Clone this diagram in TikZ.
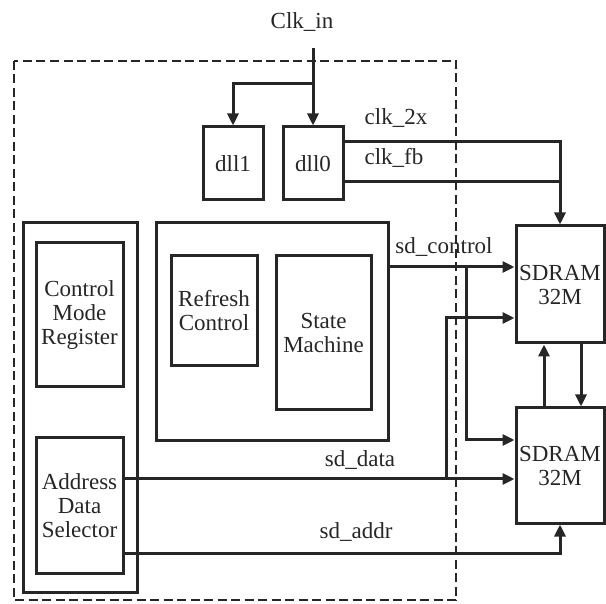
\documentclass[tikz,border=0pt]{standalone}
\usepackage{fontspec}
\setmainfont{Liberation Serif}
\usepackage{tikz}
\usetikzlibrary{arrows.meta}
\definecolor{ink}{HTML}{262626}

\begin{document}
\begin{tikzpicture}[x=1pt, y=-1pt,
    every node/.style={font=\fontsize{23}{24}\selectfont, inner sep=0pt, text=ink},
    blk/.style={draw=ink, line width=3pt, align=center},
    wire/.style={draw=ink, line width=3pt},
    sig/.style={wire, -{Triangle[length=12pt, width=11pt]}},
    lbl/.style={anchor=base}]
  \useasboundingbox (0,0) rectangle (606,604);
  % boundary of the controller
  \draw[ink, line width=2.6pt, dash pattern=on 9pt off 4.5pt] (14,61) rectangle (456,600);
  % blocks
  \node[blk, minimum width=60pt, minimum height=73pt] (dllone) at (233,163.5) {dll1};
  \node[blk, minimum width=60pt, minimum height=73pt] (dllzero) at (313,163.5) {dll0};
  \node[blk, minimum width=114pt, minimum height=369pt] (leftgrp) at (80,407.5) {};
  \node[blk, minimum width=87pt, minimum height=144pt] (ctrlreg) at (79.5,315) {Control\\Mode\\Register};
  \node[blk, minimum width=87pt, minimum height=135pt] (addrsel) at (79.5,505.5) {Address\\Data\\Selector};
  \node[blk, minimum width=232pt, minimum height=218pt] (core) at (272,332) {};
  \node[blk, minimum width=86pt, minimum height=110pt] (refresh) at (214,311) {Refresh\\Control};
  \node[blk, minimum width=95pt, minimum height=154pt] (fsm) at (323.5,333) {State\\Machine};
  \node[blk, minimum width=88pt, minimum height=117pt] (sdramA) at (560,284.5) {SDRAM\\32M};
  \node[blk, minimum width=88pt, minimum height=115pt] (sdramB) at (560,465.5) {SDRAM\\32M};
  % rows and columns of the buses
  \coordinate (clkin) at (313,48);
  \coordinate (clksplit) at (313,84);
  \coordinate (fbjoin) at (560,182);
  \coordinate (xrow) at (0,142);
  \coordinate (ctlrow) at (0,267);
  \coordinate (datrowA) at (0,318);
  \coordinate (ctlrowB) at (0,440);
  \coordinate (datrow) at (0,479);
  \coordinate (addrrow) at (0,553);
  \coordinate (ctlbus) at (466,0);
  \coordinate (datbus) at (446,0);
  % clocks
  \draw[sig] (clkin) -- (dllzero.north);
  \draw[sig] (clksplit) -| (dllone.north);
  \draw[sig] (dllzero.east |- xrow) -| (sdramA.north);
  \draw[wire] (dllzero.east |- fbjoin) -- (fbjoin);
  % memory buses
  \draw[sig] (core.east |- ctlrow) -- (sdramA.west |- ctlrow);
  \draw[sig] (ctlbus |- ctlrow) |- (sdramB.west |- ctlrowB);
  \draw[sig] (addrsel.east |- datrow) -- (sdramB.west |- datrow);
  \draw[sig] (datbus |- datrow) |- (sdramA.west |- datrowA);
  \draw[sig] (addrsel.east |- addrrow) -| (sdramB.south);
  \draw[sig] ([xshift=-16pt]sdramB.north) -- ([xshift=-16pt]sdramA.south);
  \draw[sig] ([xshift=21pt]sdramA.south) -- ([xshift=21pt]sdramB.north);
  % labels
  \node[lbl] (clkinlbl) at (302,29) {Clk\_in};
  \node[lbl] (clkxlbl) at (396,125) {clk\_2x};
  \node[lbl] (clkfblbl) at (394,165) {clk\_fb};
  \node[lbl] (ctllbl) at (444,254) {sd\_control};
  \node[lbl] (datlbl) at (360,467) {sd\_data};
  \node[lbl] (addrlbl) at (356,538) {sd\_addr};
\end{tikzpicture}
\end{document}
